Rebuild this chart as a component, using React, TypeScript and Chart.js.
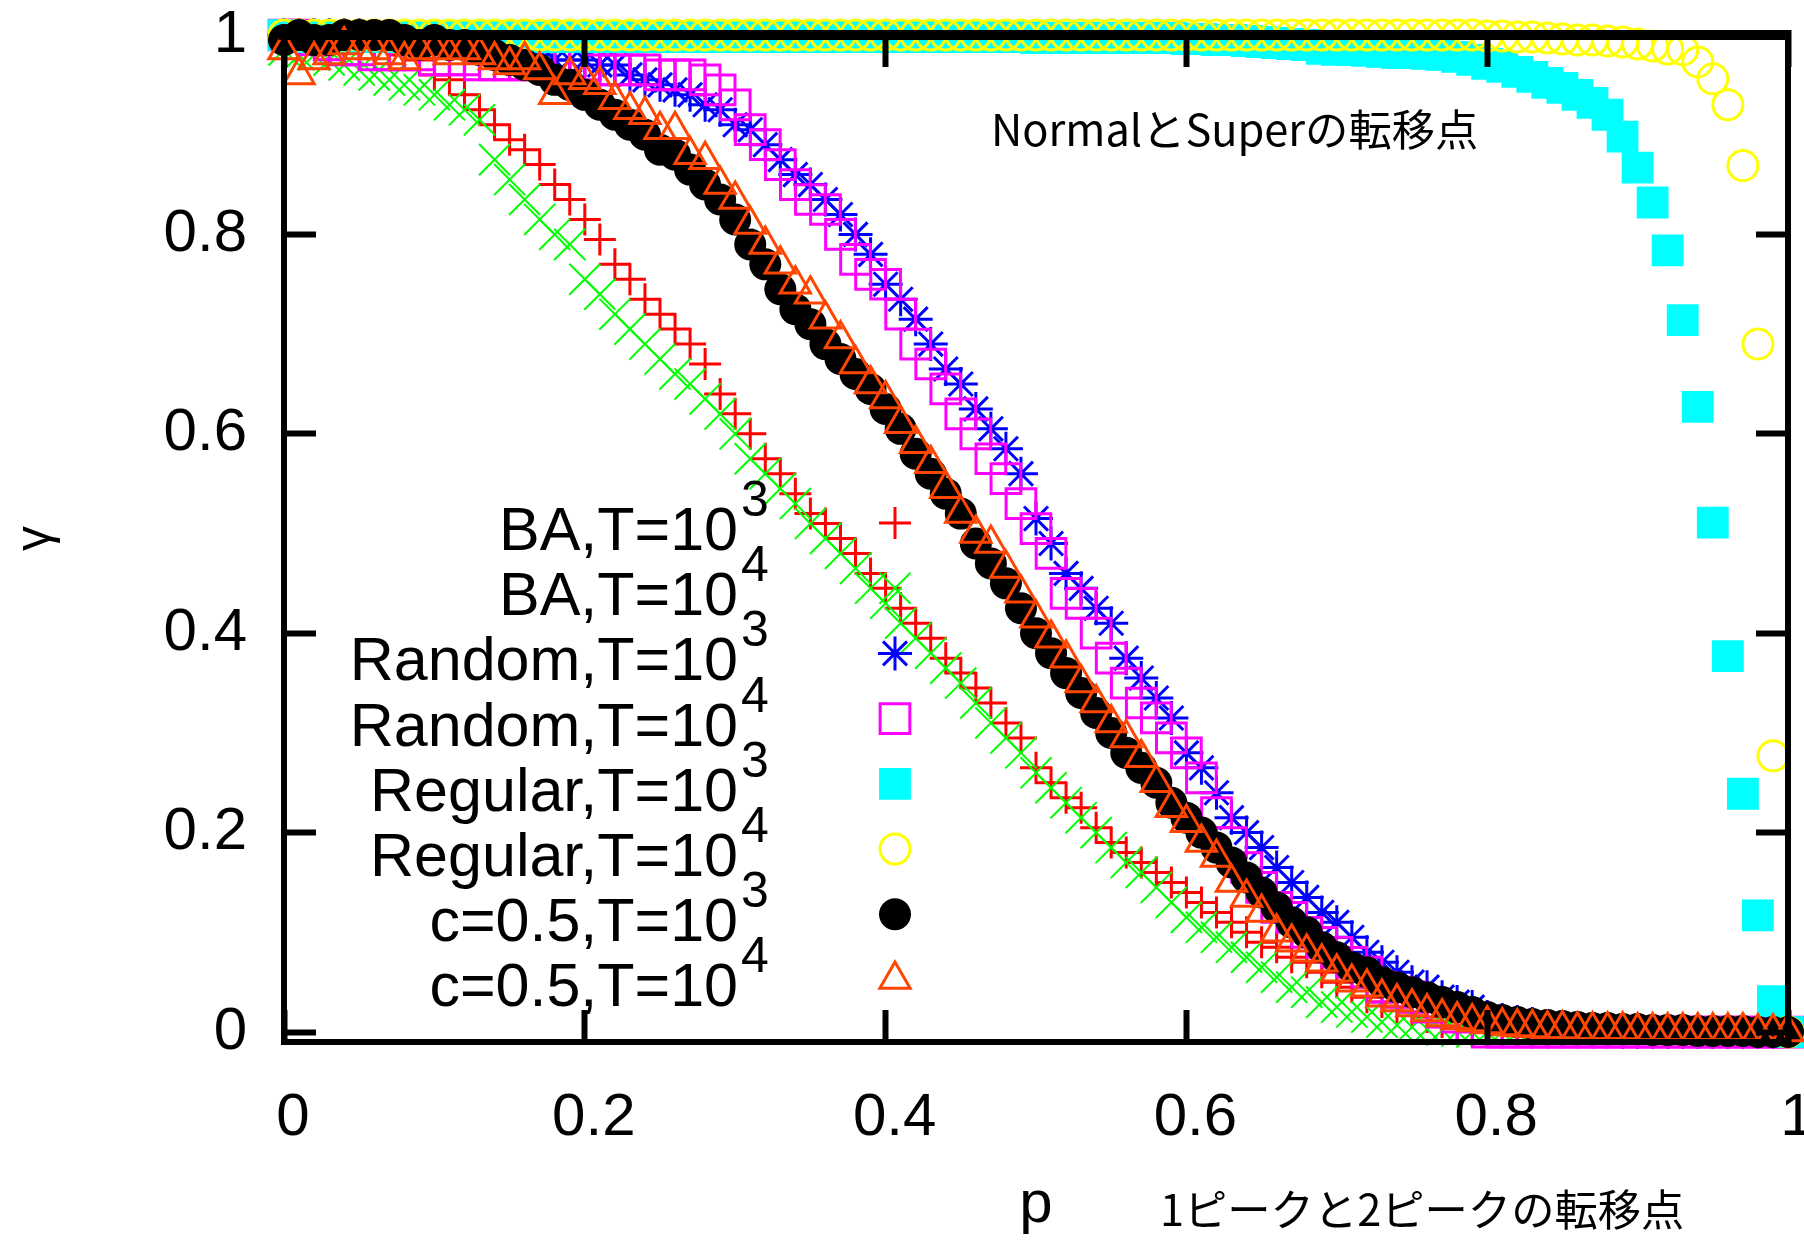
import React, { useEffect, useRef } from "react";
import { Chart, registerables } from "chart.js";
import { drawPoint } from "chart.js/helpers";

Chart.register(...registerables);

const pValues = [
  0,.01,.02,.03,.04,.05,.06,.07,.08,.09,.1,.11,.12,.13,.14,.15,.16,.17,.18,.19,
  .2,.21,.22,.23,.24,.25,.26,.27,.28,.29,.3,.31,.32,.33,.34,.35,.36,.37,.38,.39,
  .4,.41,.42,.43,.44,.45,.46,.47,.48,.49,.5,.51,.52,.53,.54,.55,.56,.57,.58,.59,
  .6,.61,.62,.63,.64,.65,.66,.67,.68,.69,.7,.71,.72,.73,.74,.75,.76,.77,.78,.79,
  .8,.81,.82,.83,.84,.85,.86,.87,.88,.89,.9,.91,.92,.93,.94,.95,.96,.97,.98,.99,1,
];
const baT3 = [
  1,1,1,.995,.995,.99,.99,.985,.98,.975,.96,.955,.94,.925,.91,.895,.885,.87,.85,.835,
  .815,.795,.77,.755,.735,.72,.705,.69,.67,.64,.62,.6,.575,.56,.54,.52,.51,.495,.48,.46,
  .445,.425,.41,.395,.375,.36,.345,.33,.31,.295,.265,.25,.235,.225,.205,.19,.18,.17,.16,.15,
  .14,.13,.12,.11,.1,.09,.085,.075,.07,.06,.05,.045,.035,.03,.025,.02,.015,.01,.005,.002,
  0,0,0,0,0,0,0,0,0,0,0,0,0,0,0,0,0,0,0,0,0,
];
const baT4 = [
  .985,.98,.98,.975,.97,.965,.96,.955,.95,.945,.94,.93,.925,.915,.875,.855,.835,.815,.8,.79,
  .755,.74,.72,.705,.69,.675,.66,.65,.635,.62,.6,.575,.56,.545,.53,.51,.495,.48,.465,.445,
  .43,.41,.395,.38,.365,.35,.33,.31,.295,.28,.26,.245,.23,.215,.2,.185,.17,.16,.145,.13,
  .115,.105,.095,.085,.075,.065,.055,.045,.04,.03,.025,.02,.015,.01,.007,.005,.003,.002,.001,0,
  0,0,0,0,0,0,0,0,0,0,0,0,0,0,0,0,0,0,0,0,0,
];
const randomT3 = [
  1,1,1,1,1,1,.995,.995,.995,.995,.99,.99,.99,.985,.985,.985,.98,.98,.975,.975,
  .975,.97,.97,.96,.955,.95,.945,.94,.93,.925,.91,.905,.89,.875,.86,.85,.835,.82,.8,.78,
  .75,.735,.715,.69,.665,.65,.625,.605,.585,.56,.515,.49,.46,.445,.425,.41,.375,.355,.335,.315,
  .28,.265,.24,.215,.2,.185,.165,.15,.135,.12,.11,.095,.08,.07,.06,.05,.045,.035,.03,.025,
  .015,.012,.01,.008,.006,.004,.003,.002,.001,0,0,0,0,0,0,0,0,0,0,0,0,
];
const randomT4 = [
  1,1,.995,.99,.985,.985,.98,.98,.98,.98,.975,.975,.975,.97,.97,.97,.97,.97,.97,.97,
  .97,.965,.965,.965,.965,.96,.96,.96,.955,.945,.93,.905,.89,.87,.85,.835,.825,.8,.775,.76,
  .75,.72,.69,.67,.645,.62,.6,.575,.555,.53,.505,.48,.44,.43,.4,.375,.35,.33,.315,.295,
  .28,.255,.22,.19,.165,.145,.125,.115,.1,.09,.08,.07,.06,.045,.04,.035,.025,.02,.015,.005,
  0,0,0,0,0,0,0,0,0,0,0,0,0,0,0,0,0,0,0,0,0,
];
const regularT3 = [
  1,.998,.998,.998,.998,.998,.998,.998,.998,.998,.998,.998,.998,.998,.998,.998,.998,.998,.998,.998,
  .998,.998,.998,.998,.998,.998,.998,.998,.998,.998,.998,.998,.998,.998,.998,.998,.998,.998,.998,.998,
  .998,.998,.998,.998,.998,.998,.998,.998,.998,.998,.997,.997,.997,.997,.997,.997,.997,.997,.997,.997,
  .996,.996,.995,.995,.994,.993,.992,.991,.99,.986,.985,.985,.984,.983,.982,.982,.981,.98,.978,.975,
  .971,.968,.963,.958,.952,.947,.94,.932,.92,.898,.867,.832,.784,.714,.627,.511,.377,.239,.117,.031,0,
];
const regularT4 = [
  1,1,1,1,1,1,1,1,1,1,1,1,1,1,1,1,1,1,1,1,
  1,1,1,1,1,1,1,1,1,1,1,1,1,1,1,1,1,1,1,1,
  1,1,1,1,1,1,1,1,1,1,1,1,1,1,1,1,1,1,1,1,
  1,1,1,1,1,1,1,1,1,1,1,1,1,1,1,1,1,1,1,1,
  .999,.999,.998,.998,.997,.996,.995,.995,.994,.993,.991,.989,.986,.985,.973,.956,.93,.869,.69,.277,0,
];
const halfT3 = [
  .995,1,.995,.995,1,1,1,1,.995,.99,.995,.99,.99,.985,.98,.975,.97,.965,.955,.95,
  .94,.93,.92,.91,.9,.885,.88,.865,.85,.835,.815,.79,.77,.745,.725,.71,.69,.675,.66,.645,
  .625,.605,.58,.56,.54,.52,.49,.47,.45,.425,.4,.38,.36,.34,.32,.3,.28,.265,.25,.23,
  .215,.2,.185,.17,.155,.14,.125,.11,.1,.085,.075,.065,.06,.05,.045,.04,.035,.03,.025,.02,
  .015,.012,.01,.008,.007,.006,.005,.004,.004,.003,.003,.002,.002,.002,.001,.001,.001,.001,0,0,0,
];
const halfT4 = [
  .985,.96,.975,.98,.99,.985,.985,.98,.975,.985,.985,.98,.985,.98,.975,.97,.975,.965,.94,.96,
  .955,.95,.935,.925,.92,.905,.905,.88,.875,.85,.835,.81,.79,.77,.75,.74,.715,.695,.67,.65,
  .635,.61,.59,.57,.545,.52,.5,.49,.465,.44,.415,.395,.375,.35,.33,.31,.295,.275,.25,.225,
  .21,.19,.175,.15,.135,.12,.1,.09,.08,.07,.06,.05,.045,.035,.03,.025,.02,.015,.012,.01,
  .008,.006,.005,.004,.003,.003,.002,.002,.002,.002,.001,.001,.001,.001,.001,.001,.001,.001,0,0,0,
];
const xTicks = [0, 0.2, 0.4, 0.6, 0.8, 1];
const yTicks = [0, 0.2, 0.4, 0.6, 0.8, 1];
const seriesNames = ["BA,T=10", "BA,T=10", "Random,T=10", "Random,T=10", "Regular,T=10", "Regular,T=10", "c=0.5,T=10", "c=0.5,T=10"];
const seriesExponents = ["3", "4", "3", "4", "3", "4", "3", "4"];
const seriesValues = [baT3, baT4, randomT3, randomT4, regularT3, regularT4, halfT3, halfT4];
const seriesColors = ["#ff0000", "#00ff00", "#0000ff", "#ff00ff", "#00ffff", "#ffff00", "#000000", "#ff4500"];
const seriesStyles = ["cross", "crossRot", "star", "rect", "rect", "circle", "circle", "triangle"];
const seriesRadii = [16, 22, 17, 21, 22.5, 15, 16, 17.5];
const seriesFilled = [false, false, false, false, true, false, true, false];
const seriesBorders = [3, 2, 3, 3, 0, 3, 0, 3];
const annotation1 = "NormalとSuperの転移点";
const annotation2 = "1ピークと2ピークの転移点";

const FONT = '"Liberation Sans"';
const JP = '"Noto Sans CJK JP"';

const overlay = {
  id: "overlay",
  afterDatasetsDraw(chart: any) {
    const c = chart.ctx;
    c.save();
    c.fillStyle = "#000";
    c.textBaseline = "alphabetic";
    const rowGap = 65.2;
    seriesNames.forEach((name, i) => {
      const baseY = 550 + i * rowGap;
      c.font = `61px ${FONT}`;
      c.textAlign = "right";
      c.fillText(name, 738, baseY);
      c.font = `50px ${FONT}`;
      c.textAlign = "left";
      c.fillText(seriesExponents[i], 741, baseY - 34);
      const o = {
        pointStyle: seriesStyles[i],
        radius: seriesRadii[i],
        borderWidth: seriesBorders[i],
        rotation: 0,
      };
      c.strokeStyle = seriesColors[i];
      c.fillStyle = seriesFilled[i] ? seriesColors[i] : "transparent";
      c.lineWidth = seriesBorders[i];
      drawPoint(c, o, 895, 523 + i * rowGap);
      c.fillStyle = "#000";
    });
    c.font = `43.3px ${JP}`;
    c.textAlign = "left";
    c.fillText(annotation1, 991, 146);
    c.fillText(annotation2, 1160, 1226);
    c.restore();
  },
};

const frameGrid = { display: true, drawOnChartArea: false, drawTicks: true, tickLength: -32, tickWidth: 6, tickColor: "#000", z: 2 };
const frameBorder = { display: true, width: 6, color: "#000", z: 2 };
const topBorder = { display: true, width: 10, color: "#000", z: 2 };
const noPad = (s: any) => { s.paddingTop = 0; s.paddingBottom = 0; s.paddingLeft = 0; s.paddingRight = 0; };

export default function App() {
  const ref = useRef<HTMLCanvasElement>(null);
  useEffect(() => {
    const chart = new Chart(ref.current as any, {
      type: "scatter",
      data: {
        datasets: seriesValues.map((vals, i) => ({
          label: seriesNames[i] + seriesExponents[i],
          data: vals.map((y, k) => ({ x: pValues[k], y })),
          order: 8 - i,
          showLine: false,
          clip: false as any,
          pointStyle: seriesStyles[i] as any,
          pointRadius: seriesRadii[i],
          pointBorderWidth: seriesBorders[i],
          pointBorderColor: seriesColors[i],
          pointBackgroundColor: seriesFilled[i] ? seriesColors[i] : "transparent",
        })),
      },
      options: {
        animation: false,
        responsive: false,
        events: [],
        layout: { autoPadding: false, padding: { top: 35, right: 16, left: 0, bottom: 0 } },
        plugins: { legend: { display: false }, tooltip: { enabled: false }, title: { display: false } },
        scales: {
          x: {
            type: "linear", position: "bottom", min: 0, max: 1,
            afterBuildTicks: (s: any) => { s.ticks = xTicks.map((value) => ({ value })); },
            afterFit: (s: any) => { s.height = 199; noPad(s); },
            grid: frameGrid, border: frameBorder,
            ticks: { color: "#000", padding: 72, labelOffset: 9, maxRotation: 0, autoSkip: false, font: { family: FONT, size: 60 }, callback: (v: any) => String(v) },
            title: { display: true, text: "p", color: "#000", padding: 0, font: { family: FONT, size: 60 } },
          },
          x2: {
            type: "linear", position: "top", min: 0, max: 1,
            afterBuildTicks: (s: any) => { s.ticks = xTicks.map((value) => ({ value })); },
            afterFit: (s: any) => { s.height = 0; noPad(s); },
            grid: frameGrid, border: topBorder,
            ticks: { display: false },
          },
          y: {
            type: "linear", position: "left", min: -0.01, max: 1,
            afterBuildTicks: (s: any) => { s.ticks = yTicks.map((value) => ({ value })); },
            afterFit: (s: any) => { s.width = 284; noPad(s); },
            grid: frameGrid, border: frameBorder,
            ticks: { color: "#000", padding: 69, autoSkip: false, font: { family: FONT, size: 60 }, callback: (v: any) => String(v) },
            title: { display: true, text: "γ", color: "#000", padding: 6, font: { family: FONT, size: 50 } },
          },
          y2: {
            type: "linear", position: "right", min: -0.01, max: 1,
            afterBuildTicks: (s: any) => { s.ticks = yTicks.map((value) => ({ value })); },
            afterFit: (s: any) => { s.width = 0; noPad(s); },
            grid: frameGrid, border: frameBorder,
            ticks: { display: false },
          },
        },
      },
      plugins: [overlay],
    } as any);
    return () => chart.destroy();
  }, []);
  return (
    <canvas
      ref={ref}
      width={1804}
      height={1241}
      style={{ position: "absolute", left: 0, top: 0, width: 1804, height: 1241, display: "block" }}
    />
  );
}
